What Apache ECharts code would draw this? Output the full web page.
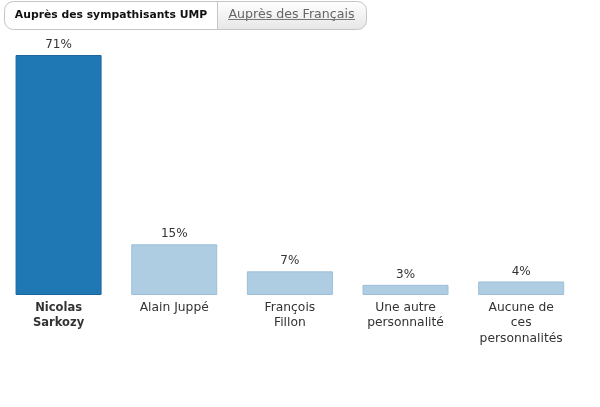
<!DOCTYPE html>
<html><head><meta charset="utf-8">
<script src="https://cdn.jsdelivr.net/npm/echarts@6/dist/echarts.min.js"></script>
<style>html,body{margin:0;padding:0;background:#fff}#c{width:600px;height:407px}</style>
</head><body><div id="c"></div>
<script>
const categories = ["Nicolas\nSarkozy", "Alain Juppé", "François\nFillon", "Une autre\npersonnalité", "Aucune de\nces\npersonnalités"];
const values = [71, 15, 7, 3, 4];
const tabLabels = ["Auprès des sympathisants UMP", "Auprès des Français"];

const chart = echarts.init(document.getElementById('c'));
const font = 'DejaVu Sans';
chart.setOption({
  animation: false,
  textStyle: { fontFamily: font },
  grid: { left: 0.75, right: 21, top: 55, bottom: 112, containLabel: false },
  xAxis: {
    type: 'category', data: categories,
    axisLine: { show: false }, axisTick: { show: false },
    axisLabel: {
      interval: 0, margin: 5, color: '#333', fontSize: 12.3, lineHeight: 15.5, fontFamily: font,
      formatter: (v, i) => i === 0 ? '{b|' + v.split('\n').join('}\n{b|') + '}' : v,
      rich: { b: { fontWeight: 'bold', color: '#333', fontSize: 11.5, lineHeight: 15.5, fontFamily: font } }
    }
  },
  yAxis: { type: 'value', min: 0, max: 71, show: false, splitLine: { show: false } },
  series: [{
    type: 'bar', barWidth: 86,
    data: values.map((v, i) => ({
      value: v,
      itemStyle: i === 0 ? { color: '#1f77b4', borderColor: '#1a65a0', borderWidth: 1 }
                         : { color: '#aecde3', borderColor: '#9dbfd8', borderWidth: 1 }
    })),
    label: { show: true, position: 'top', distance: 4, formatter: '{c}%', color: '#333', fontSize: 12, fontFamily: font }
  }],
  graphic: [
    { type: 'rect', shape: { x: 217.5, y: 1.5, width: 149, height: 28, r: [0, 9, 9, 0] },
      style: { fill: new echarts.graphic.LinearGradient(0, 0, 0, 1, [{ offset: 0, color: '#ffffff' }, { offset: 1, color: '#e6e6e6' }]), stroke: '#c4c4c4', lineWidth: 1 } },
    { type: 'rect', shape: { x: 4.5, y: 1.5, width: 213, height: 28, r: [9, 0, 0, 9] }, style: { fill: '#ffffff', stroke: '#c4c4c4', lineWidth: 1 } },
    { type: 'text', x: 111, y: 15, style: { text: tabLabels[0], fontFamily: font, fontWeight: 'bold', fontSize: 10.8, fill: '#111', align: 'center', verticalAlign: 'middle' } },
    { type: 'text', x: 291.5, y: 14.5, style: { text: tabLabels[1], fontFamily: font, fontSize: 12.6, fill: '#666', align: 'center', verticalAlign: 'middle' } },
    { type: 'line', shape: { x1: 228, y1: 19.5, x2: 355, y2: 19.5 }, style: { stroke: '#777', lineWidth: 1 } }
  ]
});
</script></body></html>
